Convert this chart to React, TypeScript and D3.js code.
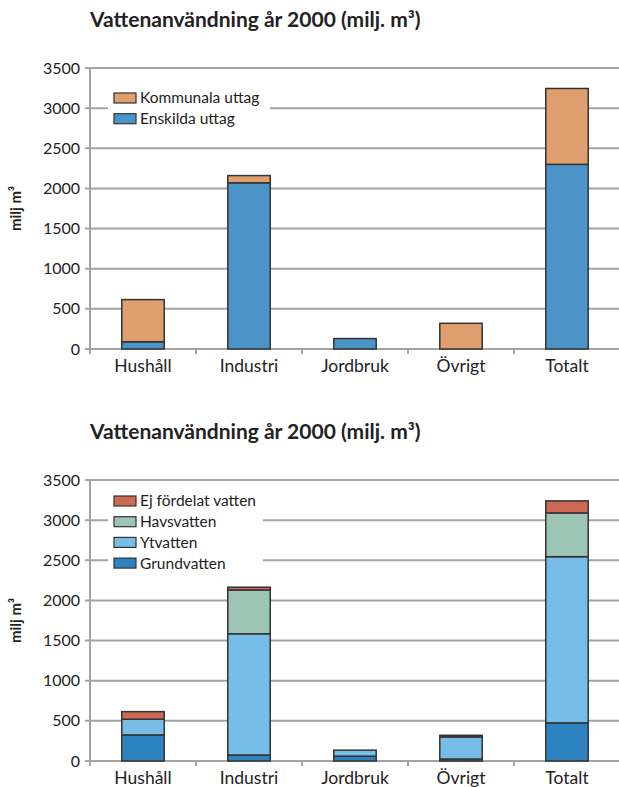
import React from "react";
import * as d3 from "d3";

const categories = ["Hushåll", "Industri", "Jordbruk", "Övrigt", "Totalt"];
const yTicks = [0, 500, 1000, 1500, 2000, 2500, 3000, 3500];

// Chart 1
const enskilda = [90, 2070, 130, 0, 2300];
const kommunala = [525, 90, 0, 320, 945];
const series1 = [
  { name: "Enskilda uttag", values: enskilda, color: "#4A94C8" },
  { name: "Kommunala uttag", values: kommunala, color: "#E09F6E" },
];

// Chart 2
const grundvatten = [325, 75, 60, 25, 475];
const ytvatten = [195, 1510, 75, 275, 2070];
const havsvatten = [0, 545, 0, 0, 545];
const ejFordelat = [95, 35, 0, 20, 150];
const series2 = [
  { name: "Grundvatten", values: grundvatten, color: "#2D82C0" },
  { name: "Ytvatten", values: ytvatten, color: "#76BDE7" },
  { name: "Havsvatten", values: havsvatten, color: "#9DC5B5" },
  { name: "Ej fördelat vatten", values: ejFordelat, color: "#CC6853" },
];

const FONT = "Lato, 'Open Sans', sans-serif";

type Series = { name: string; values: number[]; color: string };

function Chart({ top, series, legendTop, legendW }: { top: number; series: Series[]; legendTop: number; legendW: number }) {
  const x0 = 90, x1 = 620;
  const yTop = top + 68, yBot = top + 349;
  const x = d3.scaleBand<string>().domain(categories).range([x0, x1]).paddingInner(0.6).paddingOuter(0.3);
  const xb = d3.scaleBand<string>().domain(categories).range([x0, x1]);
  const y = d3.scaleLinear().domain([0, 3500]).range([yBot, yTop]);
  const stack = categories.map((c, i) => {
    let acc = 0;
    return series.map((s) => {
      const y0 = acc;
      acc += s.values[i];
      return { c, y0, y1: acc, color: s.color, v: s.values[i] };
    });
  });
  const legendItems = [...series].reverse();
  return (
    <g>
      <text x={90} y={top + 27} fontFamily={FONT} fontWeight={700} fontSize={21} fill="#222">
        Vattenanvändning år 2000 (milj. m³)
      </text>
      {yTicks.map((t) => (
        <g key={t}>
          <line x1={x0 - 5} x2={x1} y1={y(t)} y2={y(t)} stroke="#a3a3a3" strokeWidth={2} />
          <text x={80} y={y(t)} dy="0.35em" textAnchor="end" fontFamily={FONT} fontSize={16} fill="#222">
            {t}
          </text>
        </g>
      ))}
      <line x1={x0} x2={x0} y1={yTop} y2={yBot + 4} stroke="#a3a3a3" strokeWidth={2} />
      {categories.map((c) => (
        <line key={c} x1={xb(c)!} x2={xb(c)!} y1={yBot} y2={yBot + 5} stroke="#a3a3a3" strokeWidth={2} />
      ))}
      <rect x={108} y={top + legendTop - 12} width={legendW} height={series.length * 20.7 + 8} fill="#fff" />
      {legendItems.map((s, i) => (
        <g key={s.name}>
          <rect x={114} y={top + legendTop + i * 20.7 - 5} width={22} height={10} fill={s.color} stroke="#333" strokeWidth={1.2} />
          <text x={140} y={top + legendTop + i * 20.7} dy="0.35em" fontFamily={FONT} fontSize={15.5} fill="#222">
            {s.name}
          </text>
        </g>
      ))}
      {stack.map((segs) =>
        segs
          .filter((s) => s.v > 0)
          .map((s, j) => (
            <rect key={s.c + j} x={x(s.c)!} width={x.bandwidth()} y={y(s.y1)} height={y(s.y0) - y(s.y1)} fill={s.color} stroke="#333" strokeWidth={1.5} />
          ))
      )}
      {categories.map((c) => (
        <text key={c} x={x(c)! + x.bandwidth() / 2} y={yBot + 17} dy="0.35em" textAnchor="middle" fontFamily={FONT} fontSize={17.5} fill="#222">
          {c}
        </text>
      ))}
      <text transform={`translate(21,${(yTop + yBot) / 2}) rotate(-90)`} textAnchor="middle" fontFamily={FONT} fontWeight={700} fontSize={15} fill="#222">
        milj m³
      </text>
    </g>
  );
}

export default function App() {
  return (
    <svg width={619} height={787} style={{ position: "absolute", left: 0, top: 0, background: "#fff" }}>
      <rect width={619} height={787} fill="#fff" />
      <Chart top={0} series={series1} legendTop={98} legendW={162} />
      <Chart top={412} series={series2} legendTop={89} legendW={155} />
    </svg>
  );
}
